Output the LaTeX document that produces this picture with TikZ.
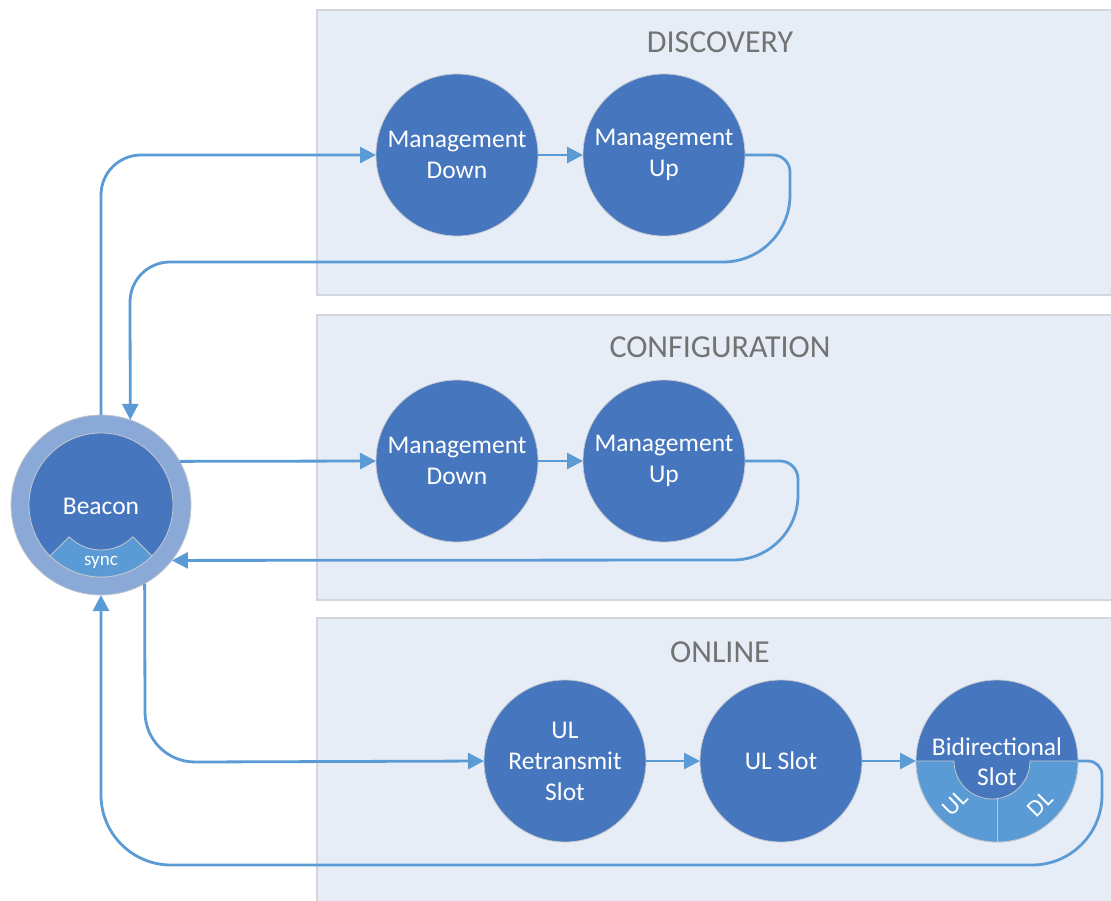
\documentclass[tikz,border=0pt]{standalone}
\usepackage{fontspec}
\setmainfont{Carlito}
\usetikzlibrary{arrows.meta}
\definecolor{panelfill}{HTML}{E6EDF7}
\definecolor{panelline}{HTML}{D3D7DD}
\definecolor{nodefill}{HTML}{4676BD}
\definecolor{ringfill}{HTML}{8BA9D6}
\definecolor{segfill}{HTML}{5A9BD5}
\definecolor{connc}{HTML}{5B9BD5}
\definecolor{titlec}{HTML}{737373}
\definecolor{edgec}{HTML}{C4C8CE}
\tikzset{
  panel/.style={fill=panelfill, draw=panelline, line width=1.2pt},
  ptitle/.style={text=titlec, font=\fontsize{32}{36}\selectfont, inner sep=0pt},
  stnode/.style={circle, fill=nodefill, draw=edgec, line width=0.8pt, minimum size=162pt, inner sep=0pt, outer sep=0pt, text=white, align=center, font=\fontsize{25.5}{31}\selectfont},
  lbl/.style={text=white, align=center, inner sep=0pt, font=\fontsize{25.5}{31}\selectfont},
  seg/.style={fill=segfill, draw=edgec, line width=0.8pt},
  conn/.style={draw=connc, line width=2.8pt, -{Triangle[length=16pt,width=16pt]}},
}
\begin{document}
\begin{tikzpicture}[x=1pt,y=-1pt]
\useasboundingbox (0,0) rectangle (1111,900);
\clip (0,0) rectangle (1111,900);
\fill[white] (0,0) rectangle (1111,900);
% panels
\draw[panel] (317,10) rectangle (1120,295);
\draw[panel] (317,315) rectangle (1120,600);
\draw[panel] (317,618) rectangle (1120,910);
\node[ptitle] (t1) at (720,42) {DISCOVERY};
\node[ptitle] (t2) at (720,347) {CONFIGURATION};
\node[ptitle] (t3) at (720,652) {ONLINE};
% beacon
\node[circle, fill=ringfill, draw=edgec, line width=0.8pt, minimum size=180pt, inner sep=0pt, outer sep=0pt] (bc) at (101,505) {};
\node[circle, fill=nodefill, draw=edgec, line width=0.8pt, minimum size=144pt, inner sep=0pt, outer sep=0pt] (bci) at (101,505) {};
\draw[seg] ([shift={(101,505)}]45:72) arc[start angle=45,end angle=135,radius=72] -- ([shift={(101,505)}]135:45) arc[start angle=135,end angle=45,radius=45] -- cycle;
\node[lbl] (bct) at (101,506) {Beacon};
\node[lbl, font=\fontsize{19}{22}\selectfont] (bcs) at (101,562) {sync};
% discovery
\node[stnode] (md1) at (457,155) {Management\\Down};
\node[stnode] (mu1) at (664,155) {Management\\Up};
% configuration
\node[stnode] (md2) at (457,461) {Management\\Down};
\node[stnode] (mu2) at (664,461) {Management\\Up};
% online
\node[stnode] (ulr) at (565,761) {UL\\Retransmit\\Slot};
\node[stnode] (uls) at (781,761) {UL Slot};
\node[stnode] (bi) at (997,761) {};
\draw[seg] (1078,761) arc[start angle=0,end angle=180,radius=81] -- (954,761) arc[start angle=180,end angle=0,radius=38] -- cycle;
\draw[draw=edgec, line width=0.8pt] (997,799) -- (997,842);
\node[lbl] (bit1) at (997,747) {Bidirectional};
\node[lbl] (bit2) at (997,777) {Slot};
\node[lbl, rotate=45, font=\fontsize{24}{28}\selectfont] (biul) at (955,803) {UL};
\node[lbl, rotate=45, font=\fontsize{24}{28}\selectfont] (bidl) at (1040,804) {DL};
% connectors
\draw[conn] (bc.north) -- (101,195) arc[start angle=180,end angle=270,radius=40] -- (md1.west);
\draw[conn] (md1) -- (mu1);
\draw[conn] (mu1.east) -- (773,155) arc[start angle=-90,end angle=0,radius=17] -- (790,195) arc[start angle=0,end angle=90,radius=67] -- (170,262) arc[start angle=-90,end angle=-180,radius=40] -- (bc.71);
\draw[conn] (bc.29) -- (md2.west);
\draw[conn] (md2) -- (mu2);
\draw[conn] (mu2.east) -- (780,461) arc[start angle=-90,end angle=0,radius=18] -- (798,495) arc[start angle=0,end angle=90,radius=65] -- (bc.-38);
\draw[conn] (bc.-61) -- (145,712) arc[start angle=180,end angle=90,radius=50] -- (ulr.west);
\draw[conn] (ulr) -- (uls);
\draw[conn] (uls) -- (bi);
\draw[conn] (bi.east) -- (1088,761) arc[start angle=-90,end angle=0,radius=14] -- (1102,795) arc[start angle=0,end angle=90,radius=70] -- (171,865) arc[start angle=90,end angle=180,radius=70] -- (bc.south);
\end{tikzpicture}
\end{document}
